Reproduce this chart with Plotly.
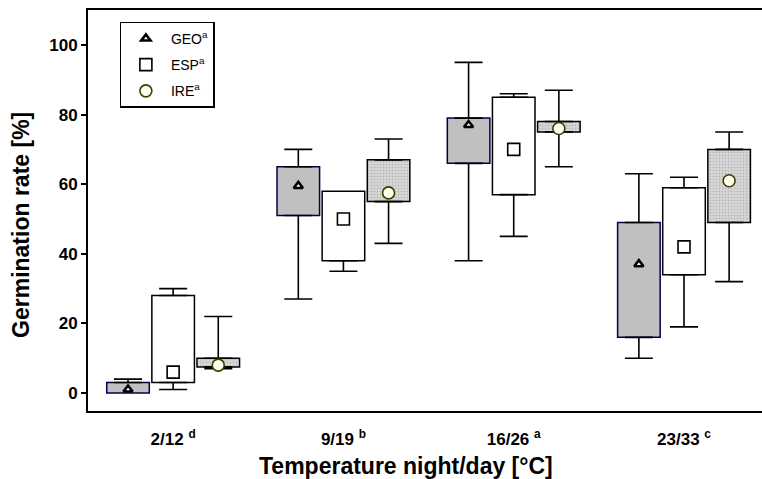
import numpy as np
import plotly.graph_objects as go

# Temperature regimes (night/day) and their significance letters
categories = ["2/12", "9/19", "16/26", "23/33"]
category_letters = ["d", "b", "a", "c"]

populations = ["GEO", "ESP", "IRE"]
population_letters = ["a", "a", "a"]

# Germination rate [%]: whisker ends, quartiles and central value per regime
geo_min = [0, 27, 38, 10]
geo_q1 = [0, 51, 66, 16]
geo_mid = [1, 59.5, 77, 37]
geo_q3 = [3, 65, 79, 49]
geo_max = [4, 70, 95, 63]

esp_min = [1, 35, 45, 19]
esp_q1 = [3, 38, 57, 34]
esp_mid = [6, 50, 70, 42]
esp_q3 = [28, 58, 85, 59]
esp_max = [30, 58, 86, 62]

ire_min = [7, 43, 65, 32]
ire_q1 = [7.5, 55, 75, 49]
ire_mid = [8, 57.5, 76, 61]
ire_q3 = [10, 67, 78, 70]
ire_max = [22, 73, 87, 75]

stats = {
    "GEO": (geo_min, geo_q1, geo_mid, geo_q3, geo_max),
    "ESP": (esp_min, esp_q1, esp_mid, esp_q3, esp_max),
    "IRE": (ire_min, ire_q1, ire_mid, ire_q3, ire_max),
}

FONT = "Liberation Sans, Arial, sans-serif"
offsets = {"GEO": -0.265, "ESP": 0.0, "IRE": 0.265}
box_width = 0.25

box_style = {
    "GEO": dict(color="#c0c0c0", line=dict(color="#00004d", width=1.5)),
    "ESP": dict(color="#ffffff", line=dict(color="#000000", width=1.5)),
    "IRE": dict(color="#d4d4d4", line=dict(color="#000000", width=1.5),
                pattern=dict(shape=".", fgcolor="#9a9a9a", bgcolor="#d8d8d8",
                             size=3, solidity=0.35)),
}
marker_style = {
    "GEO": dict(symbol="triangle-up", size=8, color="#ffffff",
                line=dict(color="#000000", width=2.6)),
    "ESP": dict(symbol="square", size=12, color="#ffffff",
                line=dict(color="#000000", width=1.6)),
    "IRE": dict(symbol="circle", size=12, color="#fffff0",
                line=dict(color="#3d3d00", width=1.6)),
}

fig = go.Figure()
base_x = np.arange(len(categories), dtype=float)

for pop, letter in zip(populations, population_letters):
    lo, q1, mid, q3, hi = (np.asarray(a, dtype=float) for a in stats[pop])
    x = base_x + offsets[pop]

    # interquartile box
    fig.add_trace(go.Bar(
        x=x, y=q3 - q1, base=q1, width=box_width,
        marker=box_style[pop], showlegend=False, hoverinfo="skip",
    ))

    # upper whisker from the top of the box
    up = hi - q3
    fig.add_trace(go.Scatter(
        x=x, y=np.where(up > 0, q3, np.nan), mode="markers",
        marker=dict(size=0, opacity=0),
        error_y=dict(type="data", symmetric=False, array=up,
                     arrayminus=np.zeros_like(up), width=14,
                     thickness=1.6, color="#000000"),
        showlegend=False, hoverinfo="skip",
    ))

    # lower whisker from the bottom of the box
    down = q1 - lo
    fig.add_trace(go.Scatter(
        x=x, y=np.where(down > 0, q1, np.nan), mode="markers",
        marker=dict(size=0, opacity=0),
        error_y=dict(type="data", symmetric=False, array=np.zeros_like(down),
                     arrayminus=down, width=14,
                     thickness=1.6, color="#000000"),
        showlegend=False, hoverinfo="skip",
    ))

for pop, letter in zip(populations, population_letters):
    mid = np.asarray(stats[pop][2], dtype=float)
    x = base_x + offsets[pop]
    fig.add_trace(go.Scatter(
        x=x, y=mid, mode="markers", marker=marker_style[pop],
        name=f"{pop}<sup>{letter}</sup>", legendgroup=pop,
    ))

tick_text = [f"{c} <sup>{l}</sup>" for c, l in zip(categories, category_letters)]

title_font = dict(family=FONT, size=23, weight="bold", color="#000000")

fig.update_layout(
    width=762, height=479,
    margin=dict(l=88, r=0, t=10, b=68),
    paper_bgcolor="white", plot_bgcolor="white",
    barmode="overlay",
    font=dict(family=FONT, color="#000000"),
    legend=dict(
        x=0.047, y=0.971, xanchor="left", yanchor="top",
        bgcolor="white", bordercolor="#000000", borderwidth=1.2,
        font=dict(family=FONT, size=14, color="#000000"),
        tracegroupgap=5, itemwidth=40,
    ),
    xaxis=dict(
        range=[-0.5, 3.458],
        tickvals=list(base_x), ticktext=tick_text,
        ticks="", showgrid=False, zeroline=False,
        showline=True, mirror=True, linecolor="#000000", linewidth=2,
        tickfont=dict(family=FONT, size=17, weight="bold"),
        ticklabelstandoff=12,
    ),
    yaxis=dict(
        range=[-5.17, 110.06],
        tickvals=[0, 20, 40, 60, 80, 100],
        ticks="outside", ticklen=5, tickwidth=1.5, tickcolor="#000000",
        showgrid=False, zeroline=False,
        showline=True, mirror=False, linecolor="#000000", linewidth=2,
        tickfont=dict(family=FONT, size=17, weight="bold"),
    ),
    annotations=[
        dict(text="Temperature night/day [°C]", font=title_font,
             xref="paper", yref="paper", x=0.472, y=-0.137,
             xanchor="center", yanchor="middle", showarrow=False),
        dict(text="Germination rate [%]", font=title_font, textangle=-90,
             xref="paper", yref="paper", x=-0.0994, y=0.464,
             xanchor="center", yanchor="middle", showarrow=False),
    ],
)

fig.write_html("out.html")
